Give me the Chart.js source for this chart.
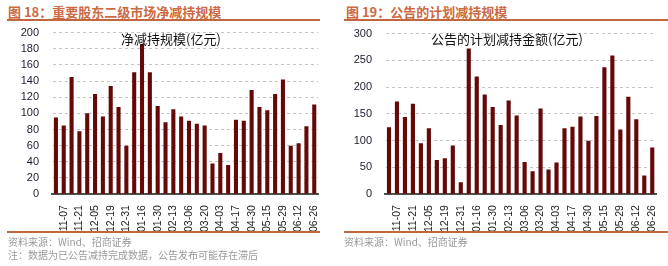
<!DOCTYPE html>
<html>
<head>
<meta charset="utf-8">
<script src="https://cdn.jsdelivr.net/npm/chart.js@4"></script>
<style>
  body { margin: 0; width: 668px; height: 266px; background: #fff; position: relative; overflow: hidden;
         font-family: "Liberation Sans", Arial, "Noto Sans CJK SC", sans-serif; }
  .head { position: absolute; top: 2px; font-size: 13px; font-weight: bold; color: #cc6a43;
          font-family: "Noto Sans CJK SC", sans-serif; }
  .rule { position: absolute; height: 2px; background: #c0673f; }
  .src { position: absolute; font-size: 10px; color: #9a9a9a; font-family: "Noto Sans CJK SC", sans-serif; }
  .inner { position: absolute; font-size: 13px; color: #111; font-family: "Noto Sans CJK SC", sans-serif; }
  .box { position: absolute; }
</style>
</head>
<body>
<div class="head" style="left:8px">图 18：重要股东二级市场净减持规模</div>
<div class="rule" style="left:7px; width:313px; top:19px"></div>
<div class="head" style="left:346px">图 19：公告的计划减持规模</div>
<div class="rule" style="left:344px; width:324px; top:19px"></div>

<div class="box" style="left:0; top:13px; width:330px; height:222px"><canvas id="netChart"></canvas></div>
<div class="box" style="left:334px; top:14px; width:334px; height:221px"><canvas id="planChart"></canvas></div>

<div class="inner" style="left:121px; top:29px">净减持规模(亿元)</div>
<div class="inner" style="left:431px; top:29px">公告的计划减持金额(亿元)</div>

<div class="rule" style="left:7px; width:313px; top:231px"></div>
<div class="rule" style="left:344px; width:324px; top:231px"></div>
<div class="src" style="left:8px; top:234px">资料来源：Wind、招商证券</div>
<div class="src" style="left:8px; top:247px">注：数据为已公告减持完成数据，公告发布可能存在滞后</div>
<div class="src" style="left:344px; top:234px">资料来源：Wind、招商证券</div>

<script>
// tick labels shown under every second bar
const tickLabels = ['11-07', '11-21', '12-05', '12-19', '12-31', '01-16', '01-30', '02-13', '03-06',
                    '03-20', '04-03', '04-17', '04-30', '05-15', '05-29', '06-12', '06-26'];
const categories = [];
tickLabels.forEach(t => { categories.push(''); categories.push(t); });

// 净减持规模 (亿元)
const netValues = [95, 85, 145, 78, 100, 124, 96, 134, 108, 60, 151, 186, 151, 109, 89, 105, 96,
                   91, 87, 85, 38, 51, 36, 92, 91, 129, 108, 104, 124, 142, 60, 63, 84, 111];
// 公告的计划减持金额 (亿元)
const planValues = [125, 173, 144, 169, 95, 123, 64, 67, 91, 22, 272, 220, 186, 163, 129, 175, 147,
                    60, 43, 160, 46, 59, 123, 126, 145, 100, 146, 237, 259, 121, 182, 140, 35, 87];

const barColor = '#640808';

function makeChart(id, values, maxY, step, yWidth) {
  const ctx = document.getElementById(id).getContext('2d');
  return new Chart(ctx, {
    type: 'bar',
    data: {
      labels: categories,
      datasets: [{
        data: values,
        backgroundColor: barColor,
        borderWidth: 0,
        barPercentage: 0.52,
        categoryPercentage: 1
      }]
    },
    options: {
      responsive: true,
      maintainAspectRatio: false,
      animation: false,
      layout: { padding: { top: 4, right: 10, left: 0, bottom: 0 } },
      plugins: { legend: { display: false }, tooltip: { enabled: false } },
      scales: {
        x: {
          grid: { display: false },
          border: { color: '#505050', width: 2 },
          ticks: {
            color: '#222',
            font: { family: 'Liberation Sans', size: 10.5 },
            minRotation: 90, maxRotation: 90,
            autoSkip: false,
            padding: 3
          }
        },
        y: {
          min: 0, max: maxY,
          afterFit: s => { s.width = yWidth; },
          grid: { color: '#c4c4c4', drawTicks: false },
          border: { display: true, color: 'rgba(0,0,0,0)', dash: [3, 3] },
          ticks: {
            stepSize: step,
            autoSkip: false,
            color: '#1c1c30',
            font: { family: 'Liberation Sans', size: 11 },
            padding: 13
          }
        }
      }
    }
  });
}

makeChart('netChart', netValues, 200, 20, 52);
makeChart('planChart', planValues, 300, 50, 51);
</script>
</body>
</html>
